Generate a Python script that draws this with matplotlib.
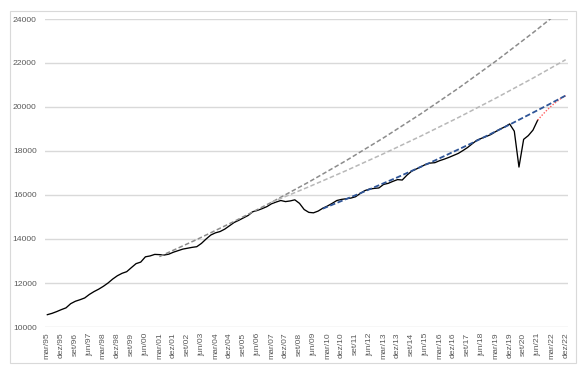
import matplotlib.pyplot as plt
from matplotlib.patches import Rectangle

# quarterly categories mar/95 .. dez/22
months = ['mar', 'jun', 'set', 'dez']
quarters = [f'{m}/{y % 100:02d}' for y in range(1995, 2023) for m in months]

# observed series (black), one value per quarter from mar/95
observed = [10560, 10620, 10700, 10790, 10870, 11060, 11170, 11240, 11320, 11480,
            11610, 11720, 11850, 12000, 12180, 12330, 12440, 12515, 12700, 12880,
            12950, 13190, 13230, 13300, 13290, 13270, 13310, 13400, 13470, 13540,
            13580, 13620, 13650, 13800, 14000, 14180, 14280, 14340, 14450, 14600,
            14750, 14850, 14960, 15070, 15240, 15300, 15380, 15470, 15600, 15680,
            15750, 15700, 15730, 15780, 15620, 15340, 15210, 15190, 15270, 15400,
            15500, 15620, 15750, 15800, 15830, 15860, 15920, 16070, 16200, 16270,
            16300, 16320, 16480, 16530, 16620, 16700, 16680, 16900, 17080, 17180,
            17280, 17390, 17450, 17470, 17560, 17630, 17710, 17800, 17890, 18020,
            18160, 18330, 18490, 18580, 18660, 18750, 18880, 19000, 19100, 19230,
            18900, 17270, 18530, 18700, 18950, 19400]

# projection after the last observation (red dotted)
proj_idx = [105, 106, 107, 108, 109, 110, 111]
proj_val = [19400, 19640, 19860, 20060, 20230, 20390, 20510]

# trend lines, read at selected quarters
trend1_idx = [24, 32, 40, 48, 56, 64, 72, 80, 88, 96, 104, 108]
trend1_val = [13200, 13976, 14798, 15668, 16590, 17565, 18599, 19692, 20850, 22077, 23375, 24052]

trend2_idx = [48, 56, 64, 72, 80, 88, 96, 104, 111]
trend2_val = [15668, 16372, 17108, 17877, 18680, 19519, 20397, 21313, 22150]

trend3_idx = [59, 67, 75, 83, 91, 99, 107, 111]
trend3_val = [15380, 16078, 16807, 17570, 18367, 19200, 20071, 20522]

yticks = list(range(10000, 24001, 2000))

fig = plt.figure(figsize=(5.86, 3.73), dpi=100)
ax = fig.add_axes([45 / 586, 1 - 327 / 373, 523 / 586, 308 / 373])

ax.plot(range(len(observed)), observed, color='black', lw=0.95, zorder=3)
ax.plot(proj_idx, proj_val, color='#FF5F5F', lw=1.0, ls=(0, (1, 1.2)), zorder=3)
ax.plot(trend1_idx, trend1_val, color='#8C8C8C', lw=1.1, ls=(0, (3, 1.6)), zorder=4)
ax.plot(trend2_idx, trend2_val, color='#B8B8B8', lw=1.1, ls=(0, (3, 1.6)), zorder=4)
ax.plot(trend3_idx, trend3_val, color='#2F5597', lw=1.3, ls=(0, (3, 1.4)), zorder=5)

ax.set_xlim(-0.5, len(quarters) - 0.5)
ax.set_ylim(10000, 24000)
ax.set_yticks(yticks)
ax.set_yticklabels([str(v) for v in yticks], fontsize=6.1, color='#595959',
                   family='Liberation Sans')
ax.set_xticks(range(0, len(quarters), 3))
ax.set_xticklabels(quarters[::3], rotation=90, fontsize=6.1, color='#595959',
                   family='Liberation Sans')
ax.tick_params(length=0)
ax.tick_params(axis='y', pad=6)
ax.tick_params(axis='x', pad=4)
ax.grid(axis='y', color='#D9D9D9', lw=1.0)
ax.set_axisbelow(True)
for s in ax.spines.values():
    s.set_visible(False)

# chart area border
fig.patches.append(Rectangle((10 / 586, 1 - 363 / 373), 566 / 586, 352 / 373,
                             transform=fig.transFigure, fill=False,
                             edgecolor='#D9D9D9', lw=0.8))

plt.savefig('out.png', dpi=100)
plt.close()
